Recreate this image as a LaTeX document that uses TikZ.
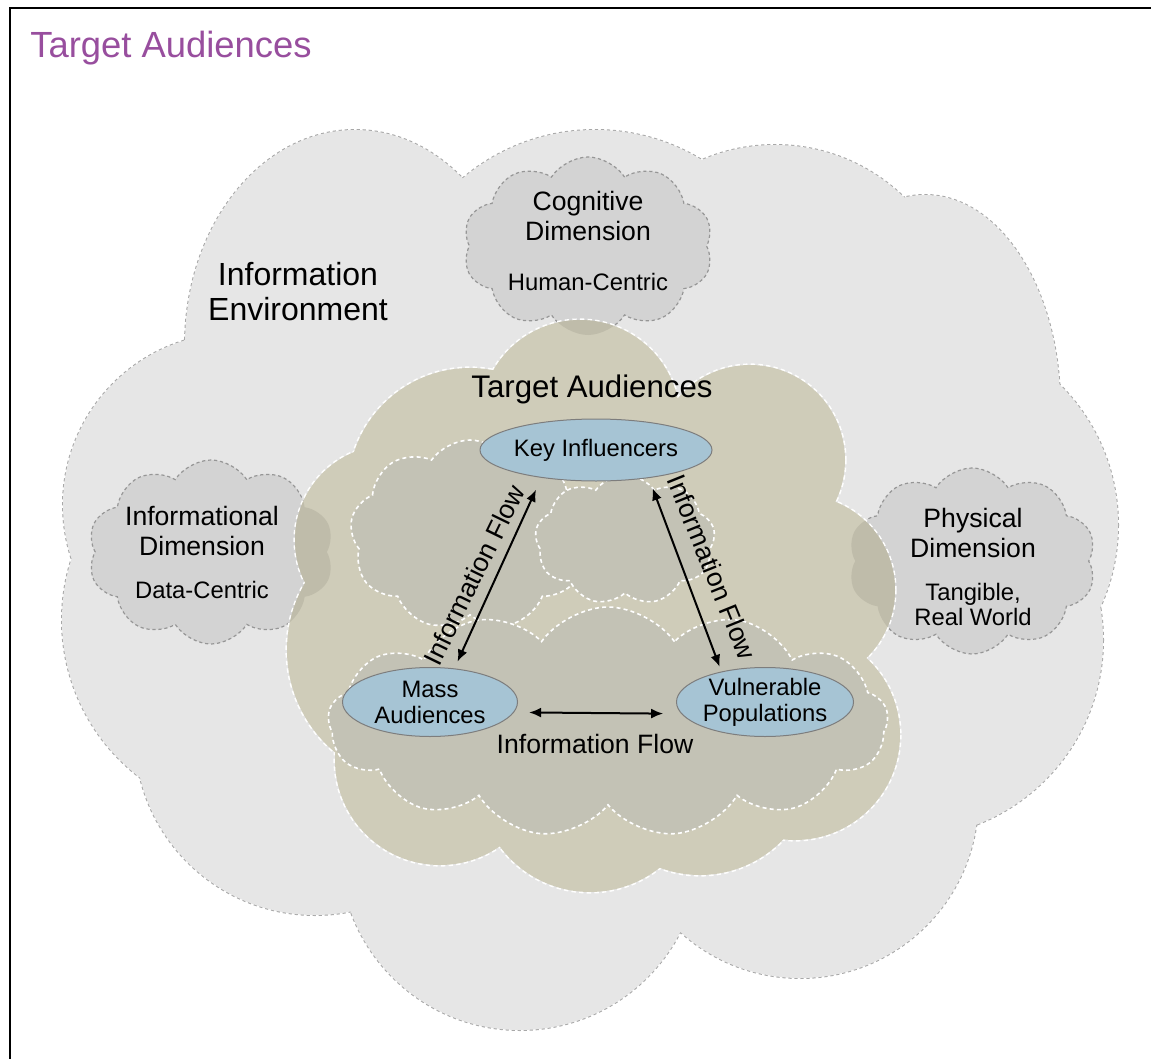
\documentclass[tikz,border=0pt]{standalone}
\usepackage{fontspec}
\setmainfont{Liberation Sans}
\usetikzlibrary{shapes.geometric,shapes.symbols,arrows.meta}

\definecolor{titlepurple}{RGB}{152,78,158}
\definecolor{envfill}{RGB}{230,230,230}
\definecolor{envline}{RGB}{168,168,168}
\definecolor{dimfill}{RGB}{211,211,211}
\definecolor{dimline}{RGB}{150,150,150}
\definecolor{tanfill}{RGB}{207,204,185}
\definecolor{tanshade}{RGB}{191,188,170}
\definecolor{innerfill}{RGB}{195,194,181}
\definecolor{audfill}{RGB}{166,196,212}
\definecolor{audline}{RGB}{125,125,125}

\tikzset{
  dimcloud/.style={cloud,cloud puffs=10,cloud puff arc=115,draw=dimline,fill=dimfill,
    line width=0.6pt,dash pattern=on 1.6pt off 1.4pt,inner sep=0pt},
  innercloud/.style={cloud,cloud puffs=9,cloud puff arc=110,draw=white,fill=innerfill,
    line width=0.8pt,dash pattern=on 2pt off 1.6pt,inner sep=0pt},
  audience/.style={ellipse,draw=audline,line width=0.5pt,fill=audfill,inner sep=0pt,
    align=center,font=\fontsize{11.9}{13}\selectfont},
  dimtitle/.style={align=center,inner sep=0pt,font=\fontsize{13.3}{15}\selectfont},
  dimnote/.style={align=center,inner sep=0pt,font=\fontsize{11.9}{12.5}\selectfont},
  flow/.style={{Latex[length=6pt,width=5pt]}-{Latex[length=6pt,width=5pt]},line width=1pt},
  flowlabel/.style={font=\fontsize{13.3}{15}\selectfont,inner sep=0pt}
}

% lobes of the two big clouds
\newcommand\envlobes{(355,345) ellipse [x radius=170,y radius=215]
  (235,505) circle [radius=172] (595,335) circle [radius=205]
  (775,330) circle [radius=185] (925,405) ellipse [x radius=135,y radius=210]
  (920,525) circle [radius=198] (905,640) circle [radius=198]
  (800,800) circle [radius=178] (520,850) circle [radius=180]
  (315,735) circle [radius=180] (260,620) circle [radius=198]}
\newcommand\tanlobes{(580,420) circle [radius=100] (470,490) circle [radius=122]
  (390,540) circle [radius=95] (420,650) circle [radius=133]
  (440,760) circle [radius=105] (590,780) circle [radius=112]
  (700,760) circle [radius=115] (795,735) circle [radius=105]
  (800,590) circle [radius=95] (750,460) circle [radius=95]}

\begin{document}
\begin{tikzpicture}[x=0.5pt,y=-0.5pt]
\useasboundingbox (0,0) rectangle (1151,1059);
\draw[line width=1.3pt] (10,1059) -- (10,8) -- (1151,8);

\draw[envline,line width=1pt,dash pattern=on 1.6pt off 1.4pt] \envlobes;
\fill[envfill] \envlobes (590,590) ellipse [x radius=380,y radius=330];

\node[dimcloud,minimum width=125pt,minimum height=89pt] (cogcloud) at (588,246) {};
\node[dimcloud,minimum width=123pt,minimum height=92pt] (infocloud) at (211,552) {};
\node[dimcloud,minimum width=124pt,minimum height=93pt] (physcloud) at (972,561) {};

\draw[white,line width=1.6pt,dash pattern=on 2.2pt off 1.6pt] \tanlobes;
\fill[tanfill] \tanlobes (590,600) ellipse [x radius=240,y radius=200];
\begin{scope}
\clip \tanlobes;
\node[dimcloud,draw=none,fill=tanshade,minimum width=125pt,minimum height=89pt] at (cogcloud.center) {};
\node[dimcloud,draw=none,fill=tanshade,minimum width=123pt,minimum height=92pt] at (infocloud.center) {};
\node[dimcloud,draw=none,fill=tanshade,minimum width=124pt,minimum height=93pt] at (physcloud.center) {};
\end{scope}

\node[innercloud,minimum width=120pt,minimum height=95pt] (innera) at (470,535) {};
\node[innercloud,minimum width=90pt,minimum height=65pt] (innerb) at (625,540) {};
\node[innercloud,cloud puffs=13,minimum width=280pt,minimum height=115pt] (innerc) at (608,722) {};

\node[align=center,inner sep=0pt,font=\fontsize{16}{17.5}\selectfont] (envlabel) at (298,292) {Information\\Environment};
\node[inner sep=0pt,font=\fontsize{15.6}{18}\selectfont] (talabel) at (592,389) {Target Audiences};
\node[anchor=west,inner sep=0pt,text=titlepurple,font=\fontsize{18.2}{22}\selectfont] (title) at (30,48) {Target Audiences};

\node[dimtitle] (cogtitle) at (588,216) {Cognitive\\Dimension};
\node[dimnote] (cognote) at (588,282) {Human-Centric};
\node[dimtitle] (infotitle) at (202,531) {Informational\\Dimension};
\node[dimnote] (infonote) at (202,590) {Data-Centric};
\node[dimtitle] (phystitle) at (973,533) {Physical\\Dimension};
\node[dimnote] (physnote) at (973,604) {Tangible,\\Real World};

\node[audience,minimum width=88pt,minimum height=31pt] (keyinf) at (596,450) {Key Influencers};
\node[audience,minimum width=87.5pt,minimum height=34.5pt] (massaud) at (430,702) {Mass\\Audiences};
\node[audience,minimum width=88.5pt,minimum height=34.5pt] (vulpop) at (765,702) {Vulnerable\\Populations};

\draw[flow,shorten <=6.5pt,shorten >=3.7pt] (keyinf.-153) -- (massaud.54);
\draw[flow,shorten <=5.4pt,shorten >=2.5pt] (keyinf.-28) -- (vulpop.145);
\draw[flow,shorten <=7.5pt,shorten >=9pt] (massaud.-7.5) -- (vulpop.-172.5);

\node[flowlabel,rotate=64] (leftflow) at (474,575) {Information Flow};
\node[flowlabel,rotate=-68] (rightflow) at (712,567) {Information Flow};
\node[flowlabel] (bottomflow) at (595,744) {Information Flow};
\end{tikzpicture}
\end{document}
